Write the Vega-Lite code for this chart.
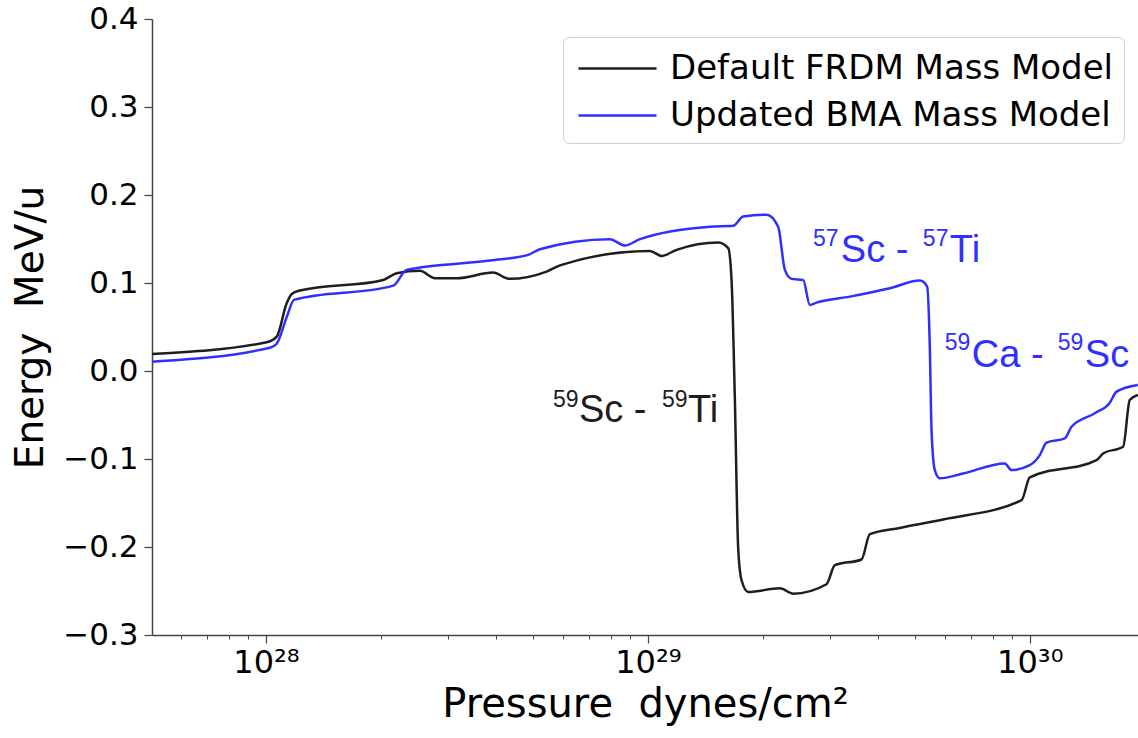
{
  "$schema": "https://vega.github.io/schema/vega-lite/v6.json",
  "autosize": "none",
  "width": 986,
  "height": 616,
  "padding": {"left": 152, "top": 19, "right": 0, "bottom": 103},
  "background": "white",
  "config": {
    "view": {"stroke": null},
    "font": "DejaVu Sans"
  },
  "datasets": {
    "curves": [
      {"series": "Default FRDM Mass Model", "pressure": 5.03e27, "energy": 0.0193},
      {"series": "Default FRDM Mass Model", "pressure": 1.004e28, "energy": 0.0326},
      {"series": "Default FRDM Mass Model", "pressure": 1.067e28, "energy": 0.039},
      {"series": "Default FRDM Mass Model", "pressure": 1.133e28, "energy": 0.077},
      {"series": "Default FRDM Mass Model", "pressure": 1.168e28, "energy": 0.0876},
      {"series": "Default FRDM Mass Model", "pressure": 1.227e28, "energy": 0.0914},
      {"series": "Default FRDM Mass Model", "pressure": 2.028e28, "energy": 0.1035},
      {"series": "Default FRDM Mass Model", "pressure": 2.198e28, "energy": 0.111},
      {"series": "Default FRDM Mass Model", "pressure": 2.53e28, "energy": 0.1138},
      {"series": "Default FRDM Mass Model", "pressure": 2.77e28, "energy": 0.1054},
      {"series": "Default FRDM Mass Model", "pressure": 3.157e28, "energy": 0.1054},
      {"series": "Default FRDM Mass Model", "pressure": 3.936e28, "energy": 0.1118},
      {"series": "Default FRDM Mass Model", "pressure": 4.267e28, "energy": 0.1054},
      {"series": "Default FRDM Mass Model", "pressure": 4.353e28, "energy": 0.1047},
      {"series": "Default FRDM Mass Model", "pressure": 5.43e28, "energy": 0.113},
      {"series": "Default FRDM Mass Model", "pressure": 5.944e28, "energy": 0.1206},
      {"series": "Default FRDM Mass Model", "pressure": 1.012e29, "energy": 0.1365},
      {"series": "Default FRDM Mass Model", "pressure": 1.086e29, "energy": 0.1308},
      {"series": "Default FRDM Mass Model", "pressure": 1.189e29, "energy": 0.1377},
      {"series": "Default FRDM Mass Model", "pressure": 1.528e29, "energy": 0.146},
      {"series": "Default FRDM Mass Model", "pressure": 1.623e29, "energy": 0.1396},
      {"series": "Default FRDM Mass Model", "pressure": 1.656e29, "energy": 0.1035},
      {"series": "Default FRDM Mass Model", "pressure": 1.689e29, "energy": -0.03},
      {"series": "Default FRDM Mass Model", "pressure": 1.723e29, "energy": -0.2},
      {"series": "Default FRDM Mass Model", "pressure": 1.759e29, "energy": -0.2378},
      {"series": "Default FRDM Mass Model", "pressure": 1.83e29, "energy": -0.251},
      {"series": "Default FRDM Mass Model", "pressure": 2.216e29, "energy": -0.247},
      {"series": "Default FRDM Mass Model", "pressure": 2.401e29, "energy": -0.253},
      {"series": "Default FRDM Mass Model", "pressure": 2.936e29, "energy": -0.2423},
      {"series": "Default FRDM Mass Model", "pressure": 3.087e29, "energy": -0.2207},
      {"series": "Default FRDM Mass Model", "pressure": 3.626e29, "energy": -0.2142},
      {"series": "Default FRDM Mass Model", "pressure": 3.813e29, "energy": -0.1854},
      {"series": "Default FRDM Mass Model", "pressure": 4.567e29, "energy": -0.1783},
      {"series": "Default FRDM Mass Model", "pressure": 5.929e29, "energy": -0.1687},
      {"series": "Default FRDM Mass Model", "pressure": 9.514e29, "energy": -0.1468},
      {"series": "Default FRDM Mass Model", "pressure": 1.0e30, "energy": -0.1209},
      {"series": "Default FRDM Mass Model", "pressure": 1.495e30, "energy": -0.1013},
      {"series": "Default FRDM Mass Model", "pressure": 1.556e30, "energy": -0.0937},
      {"series": "Default FRDM Mass Model", "pressure": 1.755e30, "energy": -0.0861},
      {"series": "Default FRDM Mass Model", "pressure": 1.827e30, "energy": -0.033},
      {"series": "Default FRDM Mass Model", "pressure": 1.918e30, "energy": -0.0273},
      {"series": "Updated BMA Mass Model", "pressure": 5.03e27, "energy": 0.0106},
      {"series": "Updated BMA Mass Model", "pressure": 1.024e28, "energy": 0.0265},
      {"series": "Updated BMA Mass Model", "pressure": 1.067e28, "energy": 0.031},
      {"series": "Updated BMA Mass Model", "pressure": 1.133e28, "energy": 0.061},
      {"series": "Updated BMA Mass Model", "pressure": 1.184e28, "energy": 0.0808},
      {"series": "Updated BMA Mass Model", "pressure": 2.154e28, "energy": 0.097},
      {"series": "Updated BMA Mass Model", "pressure": 2.335e28, "energy": 0.1149},
      {"series": "Updated BMA Mass Model", "pressure": 3.858e28, "energy": 0.1255},
      {"series": "Updated BMA Mass Model", "pressure": 4.861e28, "energy": 0.132},
      {"series": "Updated BMA Mass Model", "pressure": 5.216e28, "energy": 0.1384},
      {"series": "Updated BMA Mass Model", "pressure": 7.953e28, "energy": 0.1498},
      {"series": "Updated BMA Mass Model", "pressure": 8.707e28, "energy": 0.1426},
      {"series": "Updated BMA Mass Model", "pressure": 9.53e28, "energy": 0.1498},
      {"series": "Updated BMA Mass Model", "pressure": 1.453e29, "energy": 0.164},
      {"series": "Updated BMA Mass Model", "pressure": 1.672e29, "energy": 0.165},
      {"series": "Updated BMA Mass Model", "pressure": 1.776e29, "energy": 0.1755},
      {"series": "Updated BMA Mass Model", "pressure": 2.045e29, "energy": 0.1775},
      {"series": "Updated BMA Mass Model", "pressure": 2.193e29, "energy": 0.164},
      {"series": "Updated BMA Mass Model", "pressure": 2.284e29, "energy": 0.1149},
      {"series": "Updated BMA Mass Model", "pressure": 2.378e29, "energy": 0.1047},
      {"series": "Updated BMA Mass Model", "pressure": 2.55e29, "energy": 0.1035},
      {"series": "Updated BMA Mass Model", "pressure": 2.655e29, "energy": 0.075},
      {"series": "Updated BMA Mass Model", "pressure": 2.764e29, "energy": 0.0777},
      {"series": "Updated BMA Mass Model", "pressure": 3.379e29, "energy": 0.0845},
      {"series": "Updated BMA Mass Model", "pressure": 4.3e29, "energy": 0.094},
      {"series": "Updated BMA Mass Model", "pressure": 5.152e29, "energy": 0.1027},
      {"series": "Updated BMA Mass Model", "pressure": 5.384e29, "energy": 0.096},
      {"series": "Updated BMA Mass Model", "pressure": 5.472e29, "energy": 0.0276},
      {"series": "Updated BMA Mass Model", "pressure": 5.529e29, "energy": -0.067},
      {"series": "Updated BMA Mass Model", "pressure": 5.64e29, "energy": -0.1126},
      {"series": "Updated BMA Mass Model", "pressure": 5.813e29, "energy": -0.122},
      {"series": "Updated BMA Mass Model", "pressure": 6.69e29, "energy": -0.1165},
      {"series": "Updated BMA Mass Model", "pressure": 8.601e29, "energy": -0.105},
      {"series": "Updated BMA Mass Model", "pressure": 8.955e29, "energy": -0.1126},
      {"series": "Updated BMA Mass Model", "pressure": 1.0e30, "energy": -0.107},
      {"series": "Updated BMA Mass Model", "pressure": 1.062e30, "energy": -0.0956},
      {"series": "Updated BMA Mass Model", "pressure": 1.106e30, "energy": -0.0815},
      {"series": "Updated BMA Mass Model", "pressure": 1.235e30, "energy": -0.0766},
      {"series": "Updated BMA Mass Model", "pressure": 1.286e30, "energy": -0.0634},
      {"series": "Updated BMA Mass Model", "pressure": 1.48e30, "energy": -0.048},
      {"series": "Updated BMA Mass Model", "pressure": 1.62e30, "energy": -0.036},
      {"series": "Updated BMA Mass Model", "pressure": 1.687e30, "energy": -0.0235},
      {"series": "Updated BMA Mass Model", "pressure": 1.918e30, "energy": -0.016}
    ],
    "notes": [
      {"series": "Default FRDM Mass Model", "label": "Sc - ", "pressure": 6.6e28, "energy": -0.058},
      {"series": "Default FRDM Mass Model", "label": "Ti", "pressure": 1.273e29, "energy": -0.058},
      {"series": "Updated BMA Mass Model", "label": "Sc - ", "pressure": 3.201e29, "energy": 0.1239},
      {"series": "Updated BMA Mass Model", "label": "Ti", "pressure": 6.175e29, "energy": 0.1239},
      {"series": "Updated BMA Mass Model", "label": "Ca - ", "pressure": 7.05e29, "energy": 0.0049},
      {"series": "Updated BMA Mass Model", "label": "Sc", "pressure": 1.393e30, "energy": 0.0049}
    ],
    "sups": [
      {"series": "Default FRDM Mass Model", "label": "59", "pressure": 5.64e28, "energy": -0.0409},
      {"series": "Default FRDM Mass Model", "label": "59", "pressure": 1.088e29, "energy": -0.0409},
      {"series": "Updated BMA Mass Model", "label": "57", "pressure": 2.704e29, "energy": 0.142},
      {"series": "Updated BMA Mass Model", "label": "57", "pressure": 5.248e29, "energy": 0.142},
      {"series": "Updated BMA Mass Model", "label": "59", "pressure": 5.99e29, "energy": 0.0239},
      {"series": "Updated BMA Mass Model", "label": "59", "pressure": 1.184e30, "energy": 0.0239}
    ]
  },
  "layer": [
    {
      "data": {"name": "curves"},
      "mark": {"type": "line", "strokeWidth": 2.5, "interpolate": "monotone", "clip": true},
      "encoding": {
        "x": {
          "field": "pressure", "type": "quantitative",
          "scale": {"type": "log", "domain": [5.03e27, 1.92e30], "nice": false},
          "axis": {
            "orient": "bottom",
            "values": [1e28, 1e29, 1e30],
            "labelExpr": "datum.value >= 1e30 ? '10³⁰' : (datum.value >= 1e29 ? '10²⁹' : '10²⁸')",
            "labelFont": "DejaVu Sans",
            "labelFontSize": 32,
            "labelColor": "#000",
            "labelPadding": 4,
            "tickSize": 8, "tickWidth": 1.2, "tickColor": "#444",
            "domainColor": "#444", "domainWidth": 1.5,
            "grid": false,
            "title": "Pressure\u00a0\u00a0dynes/cm²",
            "titleFont": "DejaVu Sans",
            "titleFontSize": 40, "titleFontWeight": "normal", "titleColor": "#000",
            "titlePadding": 6
          }
        },
        "y": {
          "field": "energy", "type": "quantitative",
          "scale": {"domain": [-0.3, 0.4], "nice": false, "zero": false},
          "axis": {
            "values": [-0.3, -0.2, -0.1, 0, 0.1, 0.2, 0.3, 0.4],
            "format": ".1f",
            "labelExpr": "replace(datum.label, '-', '−')",
            "labelFont": "DejaVu Sans",
            "labelFontSize": 31,
            "labelColor": "#000",
            "labelPadding": 6,
            "tickSize": 8, "tickWidth": 1.2, "tickColor": "#444",
            "domainColor": "#444", "domainWidth": 1.5,
            "grid": false,
            "title": "Energy\u00a0\u00a0MeV/u",
            "titleFont": "DejaVu Sans",
            "titleFontSize": 39, "titleFontWeight": "normal", "titleColor": "#000",
            "titlePadding": 12
          }
        },
        "color": {
          "field": "series", "type": "nominal",
          "scale": {"domain": ["Default FRDM Mass Model", "Updated BMA Mass Model"], "range": ["#1e1e1e", "#2f2fff"]},
          "legend": {
            "title": null,
            "orient": "none",
            "legendX": 411,
            "legendY": 18,
            "symbolType": "M-0.8,0H3.1",
            "symbolSize": 1600,
            "symbolStrokeWidth": 2.5,
            "labelFont": "DejaVu Sans",
            "labelFontSize": 34,
            "labelColor": "#000",
            "labelOffset": 54,
            "labelLimit": 600,
            "rowPadding": 8,
            "padding": 10,
            "fillColor": "white",
            "strokeColor": "#d0d0d0",
            "cornerRadius": 6
          }
        },
        "detail": {"field": "series"}
      }
    },
    {
      "data": {"name": "notes"},
      "mark": {"type": "text", "align": "left", "baseline": "alphabetic", "font": "Liberation Sans", "fontSize": 38},
      "encoding": {
        "x": {
          "field": "pressure", "type": "quantitative",
          "axis": {
            "orient": "bottom",
            "values": [6e27, 7e27, 8e27, 9e27, 2e28, 3e28, 4e28, 5e28, 6e28, 7e28, 8e28, 9e28, 2e29, 3e29, 4e29, 5e29, 6e29, 7e29, 8e29, 9e29],
            "labels": false,
            "domain": false,
            "grid": false,
            "tickSize": 4, "tickWidth": 1, "tickColor": "#444",
            "title": null
          }
        },
        "y": {"field": "energy", "type": "quantitative"},
        "text": {"field": "label"},
        "color": {"field": "series", "type": "nominal", "legend": null}
      }
    },
    {
      "data": {"name": "sups"},
      "mark": {"type": "text", "align": "left", "baseline": "alphabetic", "font": "Liberation Sans", "fontSize": 23},
      "encoding": {
        "x": {"field": "pressure", "type": "quantitative", "axis": null},
        "y": {"field": "energy", "type": "quantitative"},
        "text": {"field": "label"},
        "color": {"field": "series", "type": "nominal", "legend": null}
      }
    }
  ],
  "resolve": {"axis": {"x": "independent"}}
}
